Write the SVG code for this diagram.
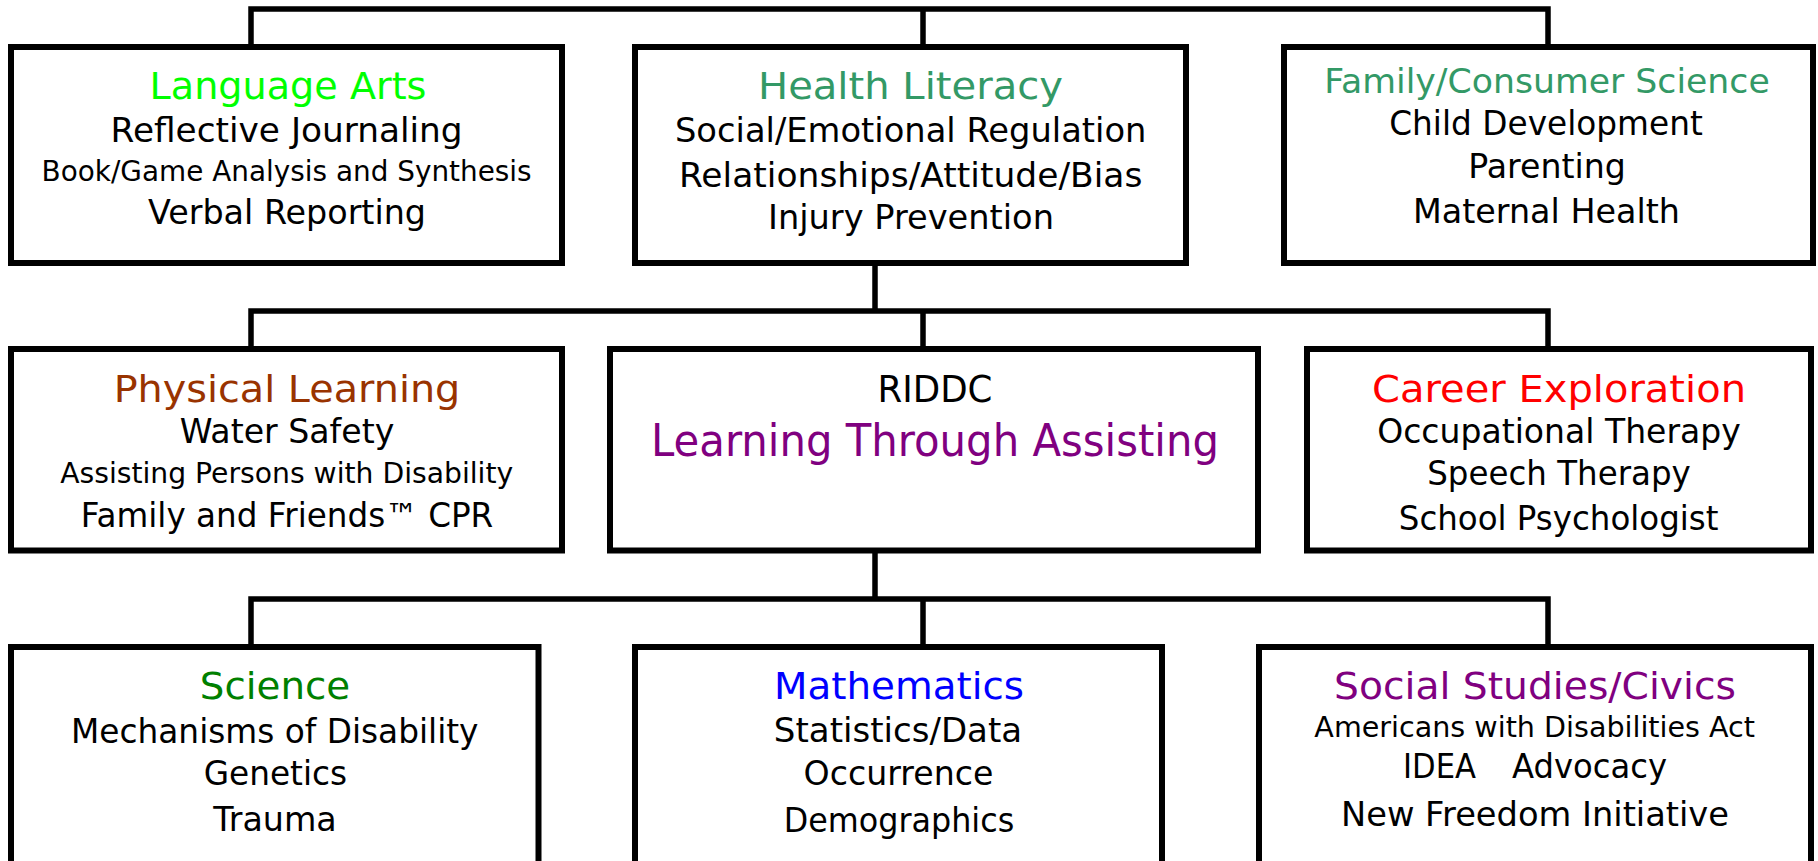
<svg xmlns="http://www.w3.org/2000/svg" width="1818" height="861" viewBox="0 0 1818 861">
  <style>
    .box { fill: #ffffff; stroke: #000000; stroke-width: 6; }
    .wire { fill: none; stroke: #000000; stroke-width: 5.5; stroke-linejoin: miter; }
    text { font-family: "DejaVu Sans", "Liberation Sans", sans-serif; text-anchor: middle; fill: #000000; }
    .t { font-size: 38px; }
    .b { font-size: 33px; }
    .s { font-size: 28.5px; }
    .big { font-size: 45px; }
    .lime { fill: #00ff00; }
    .sea { fill: #339966; }
    .brown { fill: #993300; }
    .purple { fill: #800080; }
    .red { fill: #ff0000; }
    .green { fill: #008000; }
    .blue { fill: #0000ff; }
  </style>
  <rect width="1818" height="861" fill="#ffffff"/>

  <!-- connectors -->
  <g id="connectors">
    <path class="wire" d="M251,47 V9 H1548 V47 M923,9 V47"/>
    <path class="wire" d="M875,263 V311 M251,349 V311 H1548 V349 M923,311 V349"/>
    <path class="wire" d="M875,550 V599 M251,647 V599 H1548 V647 M923,599 V647"/>
  </g>

  <!-- top row -->
  <g id="language-arts">
    <rect class="box" x="11" y="47" width="551" height="216"/>
    <text class="t lime" x="288" y="99" font-size="37" textLength="277" lengthAdjust="spacingAndGlyphs">Language Arts</text>
    <text class="b" x="286.6" y="141.7" textLength="352" lengthAdjust="spacingAndGlyphs">Reflective Journaling</text>
    <text class="s" x="286.6" y="180.7" textLength="490" lengthAdjust="spacingAndGlyphs">Book/Game Analysis and Synthesis</text>
    <text class="b" x="287" y="224" textLength="278" lengthAdjust="spacingAndGlyphs">Verbal Reporting</text>
  </g>
  <g id="health-literacy">
    <rect class="box" x="635" y="47" width="551" height="216"/>
    <text class="t sea" x="910.5" y="99.3" font-size="37" textLength="305" lengthAdjust="spacingAndGlyphs">Health Literacy</text>
    <text class="b" x="910.7" y="141.7" textLength="471.5" lengthAdjust="spacingAndGlyphs">Social/Emotional Regulation</text>
    <text class="b" x="910.7" y="186.7" textLength="463.5" lengthAdjust="spacingAndGlyphs">Relationships/Attitude/Bias</text>
    <text class="b" x="911" y="229.3" textLength="286" lengthAdjust="spacingAndGlyphs">Injury Prevention</text>
  </g>
  <g id="family-consumer-science">
    <rect class="box" x="1284" y="47" width="529" height="216"/>
    <text class="b sea" x="1547" y="92.7" textLength="445.5" lengthAdjust="spacingAndGlyphs">Family/Consumer Science</text>
    <text class="b" x="1546" y="135" textLength="313.5" lengthAdjust="spacingAndGlyphs">Child Development</text>
    <text class="b" x="1547" y="178.3" textLength="157.6" lengthAdjust="spacingAndGlyphs">Parenting</text>
    <text class="b" x="1546.5" y="222.7" textLength="267" lengthAdjust="spacingAndGlyphs">Maternal Health</text>
  </g>

  <!-- middle row -->
  <g id="physical-learning">
    <rect class="box" x="11" y="349" width="551" height="201.5"/>
    <text class="t brown" x="287" y="401.7" textLength="346.7" lengthAdjust="spacingAndGlyphs">Physical Learning</text>
    <text class="b" x="287" y="443.3" textLength="214.6" lengthAdjust="spacingAndGlyphs">Water Safety</text>
    <text class="s" x="286.7" y="482.7" textLength="453" lengthAdjust="spacingAndGlyphs">Assisting Persons with Disability</text>
    <text class="b" x="287" y="527.3" textLength="412.5" lengthAdjust="spacingAndGlyphs">Family and Friends™ CPR</text>
  </g>
  <g id="riddc">
    <rect class="box" x="610" y="349" width="648" height="201.5"/>
    <text class="t" x="935" y="401.7" font-size="37" textLength="115" lengthAdjust="spacingAndGlyphs">RIDDC</text>
    <text class="big purple" x="935" y="456" textLength="568" lengthAdjust="spacingAndGlyphs">Learning Through Assisting</text>
  </g>
  <g id="career-exploration">
    <rect class="box" x="1307" y="349" width="504" height="201.5"/>
    <text class="t red" x="1559" y="401.7" textLength="374" lengthAdjust="spacingAndGlyphs">Career Exploration</text>
    <text class="b" x="1559" y="443.3" textLength="363.6" lengthAdjust="spacingAndGlyphs">Occupational Therapy</text>
    <text class="b" x="1559" y="485" textLength="263.6" lengthAdjust="spacingAndGlyphs">Speech Therapy</text>
    <text class="b" x="1558.6" y="530" textLength="319.6" lengthAdjust="spacingAndGlyphs">School Psychologist</text>
  </g>

  <!-- bottom row (boxes run past the lower edge) -->
  <g id="science">
    <rect class="box" x="11" y="647" width="527.5" height="240"/>
    <text class="t green" x="275" y="699.3" textLength="150.3" lengthAdjust="spacingAndGlyphs">Science</text>
    <text class="b" x="274.8" y="742.7" textLength="407.4" lengthAdjust="spacingAndGlyphs">Mechanisms of Disability</text>
    <text class="b" x="275.4" y="785" textLength="143.4" lengthAdjust="spacingAndGlyphs">Genetics</text>
    <text class="b" x="275" y="830.7" textLength="123.5" lengthAdjust="spacingAndGlyphs">Trauma</text>
  </g>
  <g id="mathematics">
    <rect class="box" x="635" y="647" width="527" height="240"/>
    <text class="t blue" x="899" y="699.3" textLength="250" lengthAdjust="spacingAndGlyphs">Mathematics</text>
    <text class="b" x="898" y="741.7" textLength="248.3" lengthAdjust="spacingAndGlyphs">Statistics/Data</text>
    <text class="b" x="898.5" y="785" textLength="189.8" lengthAdjust="spacingAndGlyphs">Occurrence</text>
    <text class="b" x="899" y="831.7" textLength="230.5" lengthAdjust="spacingAndGlyphs">Demographics</text>
  </g>
  <g id="social-studies-civics">
    <rect class="box" x="1259" y="647" width="552" height="240"/>
    <text class="t purple" x="1535" y="699.3" textLength="402" lengthAdjust="spacingAndGlyphs">Social Studies/Civics</text>
    <text class="s" x="1534.7" y="737.3" textLength="440.7" lengthAdjust="spacingAndGlyphs">Americans with Disabilities Act</text>
    <text class="b" x="1439.5" y="778.3" textLength="73" lengthAdjust="spacingAndGlyphs">IDEA</text>
    <text class="b" x="1589.5" y="778.3" textLength="155" lengthAdjust="spacingAndGlyphs">Advocacy</text>
    <text class="b" x="1535" y="826" textLength="388" lengthAdjust="spacingAndGlyphs">New Freedom Initiative</text>
  </g>
</svg>
